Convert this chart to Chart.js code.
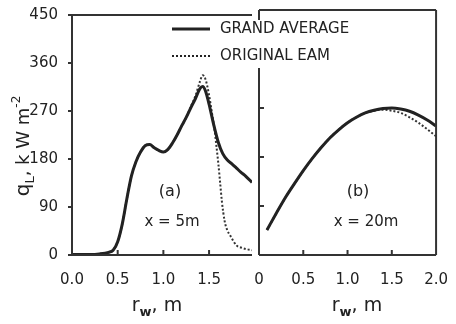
<!DOCTYPE html>
<html>
<head>
<meta charset="utf-8">
<script src="https://cdn.jsdelivr.net/npm/chart.js@4.4.0/dist/chart.umd.min.js"></script>
<style>
  html, body { margin: 0; padding: 0; background: #fff; }
  #wrap { position: relative; width: 456px; height: 324px; }
  #wrap canvas { position: absolute; left: 0; top: 0; }
</style>
</head>
<body>
<div id="wrap">
  <canvas id="chartA" width="456" height="324"></canvas>
  <canvas id="chartB" width="456" height="324"></canvas>
</div>
<script>
// panel (a): x = 5 m
const aGrandX = [0, 0.1, 0.2, 0.3, 0.4, 0.45, 0.5, 0.55, 0.6, 0.65, 0.7, 0.75, 0.8, 0.85, 0.9, 0.95, 1.0, 1.05, 1.1, 1.15, 1.2, 1.25, 1.3, 1.35, 1.4, 1.43, 1.46, 1.5, 1.55, 1.6, 1.65, 1.7, 1.75, 1.8, 1.85, 1.9, 1.97];
const aGrand  = [1, 1, 1, 2, 5, 9, 25, 58, 105, 148, 175, 193, 205, 207, 201, 196, 193, 198, 210, 225, 242, 258, 276, 293, 312, 316, 308, 283, 245, 212, 190, 178, 171, 163, 155, 148, 136];
const aEamX   = [0, 0.1, 0.2, 0.3, 0.4, 0.45, 0.5, 0.55, 0.6, 0.65, 0.7, 0.75, 0.8, 0.85, 0.9, 0.95, 1.0, 1.05, 1.1, 1.15, 1.2, 1.25, 1.3, 1.35, 1.4, 1.43, 1.46, 1.5, 1.53, 1.56, 1.58, 1.6, 1.62, 1.64, 1.67, 1.7, 1.73, 1.8, 1.85, 1.91, 1.97];
const aEam    = [1, 1, 1, 2, 5, 9, 25, 58, 105, 148, 175, 193, 205, 207, 201, 196, 193, 198, 210, 225, 242, 258, 278, 298, 325, 337, 330, 300, 268, 235, 205, 174, 138, 101, 64, 46, 37, 18, 14, 11, 9];

// panel (b): x = 20 m
const bGrandX = [0.09, 0.2, 0.3, 0.4, 0.5, 0.6, 0.7, 0.8, 0.9, 1.0, 1.1, 1.2, 1.3, 1.4, 1.5, 1.6, 1.7, 1.8, 1.9, 2.0];
const bGrand  = [46, 78, 106, 131, 155, 177, 197, 215, 230, 243, 253, 261, 266, 269, 270, 268, 264, 257, 248, 237];
const bEamX   = [0.09, 0.2, 0.3, 0.4, 0.5, 0.6, 0.7, 0.8, 0.9, 1.0, 1.1, 1.2, 1.3, 1.4, 1.5, 1.6, 1.7, 1.8, 1.9, 2.0];
const bEam    = [46, 78, 106, 131, 155, 177, 197, 215, 230, 243, 253, 261, 265, 267, 265, 261, 253, 243, 231, 218];

// ticks
const yTicks   = [0, 90, 180, 270, 360, 450];
const yLabels  = ['0', '90', '180', '270', '360', '450'];
const aXTicks  = [0, 0.5, 1.0, 1.5];
const aXLabels = ['0.0', '0.5', '1.0', '1.5'];
const bXTicks  = [0, 0.5, 1.0, 1.5, 2.0];
const bXLabels = ['0', '0.5', '1.0', '1.5', '2.0'];

const INK = '#222';
const FAMILY = '"DejaVu Sans", sans-serif';

function pts(xs, ys) {
  return xs.map((x, i) => ({ x: x, y: ys[i] }));
}

function line(ctx, x1, y1, x2, y2) {
  ctx.beginPath();
  ctx.moveTo(x1, y1);
  ctx.lineTo(x2, y2);
  ctx.stroke();
}

// draw a run of text pieces (sub/superscripts) centred on x
function drawParts(ctx, parts, x, y) {
  let total = 0;
  parts.forEach(p => {
    ctx.font = (p.bold ? 'bold ' : '') + p.size + 'px ' + FAMILY;
    total += ctx.measureText(p.t).width;
  });
  let cx = x - total / 2;
  ctx.textAlign = 'left';
  ctx.textBaseline = 'alphabetic';
  parts.forEach(p => {
    ctx.font = (p.bold ? 'bold ' : '') + p.size + 'px ' + FAMILY;
    ctx.fillText(p.t, cx, y + (p.dy || 0));
    cx += ctx.measureText(p.t).width;
  });
}

function datasets(gx, gy, ex, ey) {
  return [
    {
      label: 'GRAND AVERAGE',
      data: pts(gx, gy),
      borderColor: INK,
      borderWidth: 3,
      pointRadius: 0,
      cubicInterpolationMode: 'monotone'
    },
    {
      label: 'ORIGINAL EAM',
      data: pts(ex, ey),
      borderColor: '#333',
      borderWidth: 2,
      borderDash: [2, 2],
      pointRadius: 0,
      cubicInterpolationMode: 'monotone'
    }
  ];
}

function xScale(max, ticks, labels) {
  return {
    type: 'linear',
    min: 0,
    max: max,
    afterBuildTicks: s => { s.ticks = ticks.map(v => ({ value: v })); },
    afterFit: s => { s.height = 69; },
    ticks: {
      callback: (v, i) => labels[i],
      font: { family: FAMILY, size: 15 },
      color: INK,
      padding: 8,
      maxRotation: 0,
      autoSkip: false
    },
    grid: { display: false },
    border: { display: false }
  };
}

// panel (a) frame, ticks, axis titles and labels
const decorA = {
  id: 'decorA',
  afterDraw(chart) {
    const ctx = chart.ctx;
    const a = chart.chartArea;
    const x = chart.scales.x, y = chart.scales.y;
    ctx.save();
    ctx.strokeStyle = '#333';
    ctx.lineWidth = 2;
    line(ctx, a.left, a.top, a.left, a.bottom);
    line(ctx, a.left, a.top, a.right, a.top);
    line(ctx, a.left, a.bottom, a.right, a.bottom);
    yTicks.forEach(v => line(ctx, a.left - 4, y.getPixelForValue(v), a.left, y.getPixelForValue(v)));
    aXTicks.slice(1).forEach(v => line(ctx, x.getPixelForValue(v), a.bottom, x.getPixelForValue(v), a.bottom - 5));

    ctx.fillStyle = INK;
    // y axis title
    ctx.save();
    ctx.translate(29, 146);
    ctx.rotate(-Math.PI / 2);
    drawParts(ctx, [
      { t: 'q', size: 20 },
      { t: 'L', size: 13, dy: 5 },
      { t: ', k W m', size: 18 },
      { t: '-2', size: 12, dy: -9 }
    ], 0, 0);
    ctx.restore();
    // x axis title
    drawParts(ctx, [
      { t: 'r', size: 19 },
      { t: 'w', size: 13, dy: 5, bold: true },
      { t: ', m', size: 19 }
    ], 157, 311);
    ctx.textAlign = 'center';
    ctx.textBaseline = 'middle';
    ctx.font = '16px ' + FAMILY;
    ctx.fillText('(a)', 170, 192);
    ctx.font = '15px ' + FAMILY;
    ctx.fillText('x = 5m', 172, 222);
    ctx.restore();
  }
};

// panel (b) frame (left side broken by the legend) and the legend
const decorB = {
  id: 'decorB',
  afterDraw(chart) {
    const ctx = chart.ctx;
    const a = chart.chartArea;
    const x = chart.scales.x, y = chart.scales.y;
    ctx.save();
    ctx.strokeStyle = '#333';
    ctx.lineWidth = 2;
    line(ctx, a.left, a.top, a.left, a.top + 10);
    line(ctx, a.left, 68, a.left, a.bottom);
    line(ctx, a.left, a.top, a.right, a.top);
    line(ctx, a.right, a.top, a.right, a.bottom);
    line(ctx, a.left, a.bottom, a.right, a.bottom);
    [90, 180, 270].forEach(v => line(ctx, a.left, y.getPixelForValue(v), a.left + 5, y.getPixelForValue(v)));
    bXTicks.slice(1, -1).forEach(v => line(ctx, x.getPixelForValue(v), a.bottom, x.getPixelForValue(v), a.bottom - 5));

    // legend
    ctx.strokeStyle = INK;
    ctx.lineWidth = 3;
    line(ctx, 172, 29, 210, 29);
    ctx.lineWidth = 2;
    ctx.setLineDash([2, 2]);
    line(ctx, 172, 56, 210, 56);
    ctx.setLineDash([]);
    ctx.fillStyle = INK;
    ctx.font = '15px ' + FAMILY;
    ctx.textAlign = 'left';
    ctx.textBaseline = 'middle';
    ctx.fillText('GRAND AVERAGE', 220, 29);
    ctx.fillText('ORIGINAL EAM', 220, 56);

    drawParts(ctx, [
      { t: 'r', size: 19 },
      { t: 'w', size: 13, dy: 5, bold: true },
      { t: ', m', size: 19 }
    ], 357, 311);
    ctx.textAlign = 'center';
    ctx.textBaseline = 'middle';
    ctx.font = '16px ' + FAMILY;
    ctx.fillText('(b)', 358, 192);
    ctx.font = '15px ' + FAMILY;
    ctx.fillText('x = 20m', 366, 222);
    ctx.restore();
  }
};

new Chart(document.getElementById('chartA'), {
  type: 'line',
  data: { datasets: datasets(aGrandX, aGrand, aEamX, aEam) },
  options: {
    responsive: false,
    animation: false,
    layout: { padding: { left: 0, top: 10, right: 204, bottom: 0 } },
    plugins: { legend: { display: false }, tooltip: { enabled: false } },
    scales: {
      x: xScale(1.97, aXTicks, aXLabels),
      y: {
        min: 0,
        max: 450,
        afterBuildTicks: s => { s.ticks = yTicks.map(v => ({ value: v })); },
        afterFit: s => { s.width = 72; },
        ticks: {
          callback: (v, i) => yLabels[i],
          font: { family: FAMILY, size: 15 },
          color: INK,
          padding: 6
        },
        grid: { display: false },
        border: { display: false }
      }
    }
  },
  plugins: [decorA]
});

new Chart(document.getElementById('chartB'), {
  type: 'line',
  data: { datasets: datasets(bGrandX, bGrand, bEamX, bEam) },
  options: {
    responsive: false,
    animation: false,
    layout: { padding: { left: 259, top: 10, right: 13, bottom: 0 } },
    plugins: { legend: { display: false }, tooltip: { enabled: false } },
    scales: {
      x: xScale(2.0, bXTicks, bXLabels),
      y: { display: false, min: 0, max: 450 }
    }
  },
  plugins: [decorB]
});
</script>
</body>
</html>
